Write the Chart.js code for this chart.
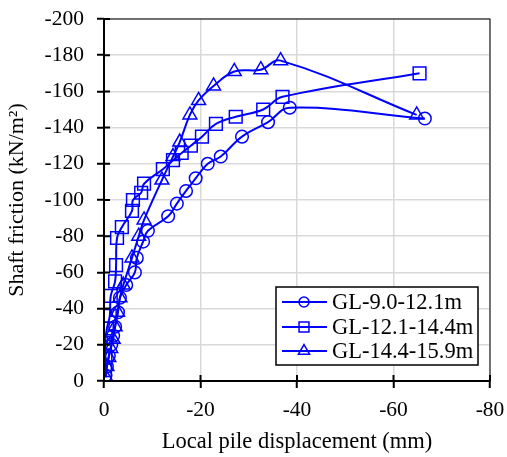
<!DOCTYPE html>
<html>
<head>
<meta charset="utf-8">
<script src="https://cdn.jsdelivr.net/npm/chart.js@4/dist/chart.umd.min.js"></script>
<style>
  html, body { margin: 0; padding: 0; background: #fff; }
  #wrap { width: 507px; height: 457px; }
</style>
</head>
<body>
<div id="wrap"><canvas id="chart" width="507" height="457"></canvas></div>
<script>
// Series (x = displacement mm, y = shaft friction kN/m2)
const seriesLabels = ['GL-9.0-12.1m', 'GL-12.1-14.4m', 'GL-14.4-15.9m'];

const circleX = [-0.3, -0.6, -1.0, -1.5, -1.9, -2.3, -2.9, -3.3, -4.6, -6.4, -6.8, -8.1, -9.1, -13.3, -15.1, -17.0, -19.0, -21.5, -24.2, -28.6, -34.0, -38.5, -66.5];
const circleY = [-3, -8, -14, -20, -25, -30, -38, -46, -53, -60, -68, -77, -83, -91, -98, -105, -112, -120, -124, -135, -143, -151, -145];

const squareX = [-0.2, -0.3, -0.2, -0.6, -1.2, -1.4, -2.3, -2.5, -2.7, -3.7, -5.8, -6.0, -7.7, -8.3, -12.2, -14.3, -16.1, -18.0, -20.3, -23.2, -27.3, -33.0, -37.0, -65.4];
const squareY = [-6, -13, -21, -29, -36, -47, -55, -64, -79, -85, -94, -100, -104, -109, -117, -122, -126, -130, -135, -142, -146, -150, -157, -170];

const triangleX = [-0.4, -0.6, -1.0, -1.4, -1.9, -2.3, -2.8, -3.3, -4.0, -5.8, -7.2, -8.3, -12.0, -14.3, -15.7, -17.8, -19.6, -22.7, -27.0, -32.5, -36.6, -64.8];
const triangleY = [-2, -8, -13, -18, -23, -30, -38, -46, -53, -68, -80, -89, -111, -124, -132, -147, -155, -163, -171, -172, -177, -147];

const xTicks = [0, -20, -40, -60, -80];
const yTicks = [0, -20, -40, -60, -80, -100, -120, -140, -160, -180, -200];

const FONT = '"Liberation Serif", "Times New Roman", serif';
const BLUE = '#0000ff';

function toPoints(xs, ys) {
    return xs.map((x, i) => ({ x: x, y: ys[i] }));
}

function series(label, xs, ys, style, radius) {
    return {
        label: label,
        data: toPoints(xs, ys),
        showLine: true,
        borderColor: BLUE,
        borderWidth: 2,
        tension: 0.4,
        pointStyle: style,
        pointRadius: radius,
        pointBorderWidth: 1.5,
        pointBorderColor: BLUE,
        pointBackgroundColor: 'rgba(0,0,0,0)'
    };
}

// draw a marker by hand (used for the legend)
function marker(ctx, style, x, y, r) {
    ctx.beginPath();
    if (style === 'circle') {
        ctx.arc(x, y, r, 0, Math.PI * 2);
    } else if (style === 'rect') {
        const s = r * Math.SQRT1_2;
        ctx.rect(x - s, y - s, 2 * s, 2 * s);
    } else {
        for (let k = 0; k < 3; k++) {
            const a = k * 2 * Math.PI / 3;
            const px = x + Math.sin(a) * r, py = y - Math.cos(a) * r;
            if (k === 0) ctx.moveTo(px, py); else ctx.lineTo(px, py);
        }
        ctx.closePath();
    }
    ctx.stroke();
}

// frame, inner tick marks and the boxed legend
const framePlugin = {
    id: 'frame',
    afterDraw(chart) {
        const ctx = chart.ctx;
        const a = chart.chartArea;
        const xs = chart.scales.x, ys = chart.scales.y;
        ctx.save();
        ctx.strokeStyle = '#000';
        ctx.lineWidth = 1;
        ctx.strokeRect(a.left, a.top, a.right - a.left, a.bottom - a.top);

        // axis lines + inner half of the crossing ticks
        ctx.lineWidth = 2;
        ctx.beginPath();
        ctx.moveTo(a.left, a.top); ctx.lineTo(a.left, a.bottom); ctx.lineTo(a.right, a.bottom);
        ctx.stroke();
        ctx.beginPath();
        yTicks.forEach(v => {
            const py = ys.getPixelForValue(v);
            ctx.moveTo(a.left, py); ctx.lineTo(a.left + 6, py);
        });
        xTicks.forEach(v => {
            const px = xs.getPixelForValue(v);
            ctx.moveTo(px, a.bottom); ctx.lineTo(px, a.bottom - 6);
        });
        ctx.stroke();

        // legend
        const lx = 276, ly = 287, lw = 202, lh = 78;
        ctx.fillStyle = '#fff';
        ctx.fillRect(lx, ly, lw, lh);
        ctx.lineWidth = 1.5;
        ctx.strokeStyle = '#000';
        ctx.strokeRect(lx, ly, lw, lh);
        const rows = [302, 327, 351];
        const legendR = { circle: 5, rect: 7, triangle: 6.5 };
        chart.data.datasets.forEach((ds, i) => {
            const y = rows[i];
            ctx.strokeStyle = BLUE;
            ctx.lineWidth = 2;
            ctx.beginPath();
            ctx.moveTo(282, y); ctx.lineTo(327, y);
            ctx.stroke();
            ctx.lineWidth = 1.5;
            marker(ctx, ds.pointStyle, 304, y, legendR[ds.pointStyle]);
            ctx.fillStyle = '#000';
            ctx.font = '22.5px ' + FONT;
            ctx.textBaseline = 'middle';
            ctx.textAlign = 'left';
            ctx.fillText(ds.label, 332, y + 1);
        });
        ctx.restore();
    }
};

new Chart(document.getElementById('chart'), {
    type: 'scatter',
    data: {
        datasets: [
            series(seriesLabels[0], circleX, circleY, 'circle', 6.3),
            series(seriesLabels[1], squareX, squareY, 'rect', 9),
            series(seriesLabels[2], triangleX, triangleY, 'triangle', 8)
        ]
    },
    options: {
        responsive: false,
        animation: false,
        layout: { padding: { top: 19, right: 17, left: 0, bottom: 0 } },
        plugins: {
            legend: { display: false },
            tooltip: { enabled: false }
        },
        scales: {
            x: {
                type: 'linear',
                min: -80,
                max: 0,
                reverse: true,
                afterBuildTicks: s => { s.ticks = xTicks.map(v => ({ value: v })); },
                afterFit: s => { s.height = 76; s.paddingLeft = 0; s.paddingRight = 0; },
                grid: { color: '#d9d9d9', lineWidth: 1.5, tickColor: '#000', tickLength: 7, tickWidth: 2 },
                border: { display: false },
                ticks: { color: '#000', padding: 9, maxRotation: 0, font: { family: FONT, size: 21.5 } },
                title: {
                    display: true,
                    text: 'Local pile displacement (mm)',
                    color: '#000',
                    font: { family: FONT, size: 22.5 },
                    padding: { top: 0, bottom: 1 }
                }
            },
            y: {
                type: 'linear',
                min: -200,
                max: 0,
                reverse: true,
                afterBuildTicks: s => { s.ticks = yTicks.map(v => ({ value: v })); },
                afterFit: s => { s.width = 104; s.paddingTop = 0; s.paddingBottom = 0; },
                grid: { color: '#d9d9d9', lineWidth: 1.5, tickColor: '#000', tickLength: 7, tickWidth: 2 },
                border: { display: false },
                ticks: { color: '#000', padding: 13, font: { family: FONT, size: 21.5 } },
                title: {
                    display: true,
                    text: 'Shaft friction (kN/m²)',
                    color: '#000',
                    font: { family: FONT, size: 22 },
                    padding: { top: 4, bottom: 0 }
                }
            }
        }
    },
    plugins: [framePlugin]
});
</script>
</body>
</html>
